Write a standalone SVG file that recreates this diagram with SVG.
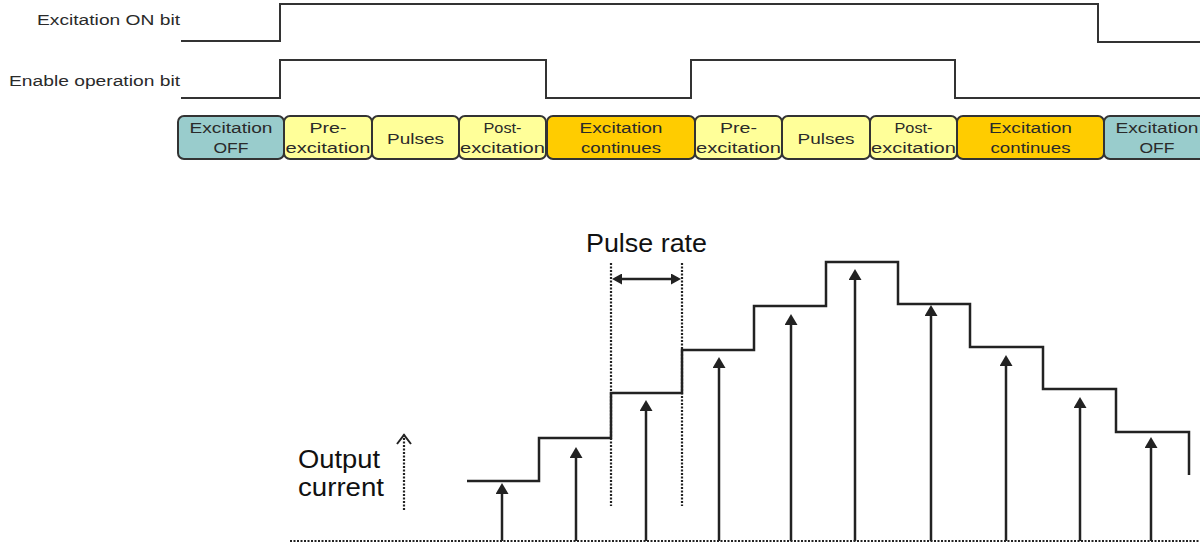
<svg xmlns="http://www.w3.org/2000/svg" width="1200" height="546" viewBox="0 0 1200 546">
<style>
.lbl{font-family:"Liberation Sans",Arial,sans-serif;font-size:15.5px;fill:#2a2a2a}
.bl{font-family:"Liberation Sans",Arial,sans-serif;font-size:15.5px;fill:#2a2a2a;text-anchor:middle}
.big{font-family:"Liberation Sans",Arial,sans-serif;font-size:25px;fill:#111}
.sig{fill:none;stroke:#333;stroke-width:2}
.box{stroke:#333;stroke-width:2}
.teal{fill:#99CCCC}.yel{fill:#FFFF99}.org{fill:#FFCC00}
.stair{fill:none;stroke:#222;stroke-width:2.5}
.pa{stroke:#222;stroke-width:2.5;marker-end:url(#tri)}
.dot{fill:none;stroke:#222;stroke-width:2.2;stroke-dasharray:2,1.5}
</style>
<defs>
<marker id="tri" viewBox="0 0 11 13" refX="6" refY="6.5" markerWidth="11" markerHeight="13" markerUnits="userSpaceOnUse" orient="auto">
<path d="M0,0 L11,6.5 L0,13 z" fill="#222"/>
</marker>
<marker id="tri2" viewBox="0 0 10 11" refX="7" refY="5.5" markerWidth="10" markerHeight="11" markerUnits="userSpaceOnUse" orient="auto-start-reverse">
<path d="M0,0 L10,5.5 L0,11 z" fill="#222"/>
</marker>
<marker id="chev" viewBox="0 0 12 16" refX="11" refY="8" markerWidth="12" markerHeight="16" markerUnits="userSpaceOnUse" orient="auto">
<path d="M1,1 L10,8 L1,15" fill="none" stroke="#222" stroke-width="2"/>
</marker>
</defs>

<g id="excitation-on-signal">
<text class="lbl" x="37" y="25" textLength="143" lengthAdjust="spacingAndGlyphs">Excitation ON bit</text>
<path class="sig" d="M181,41 H280 V4 H1098 V42 H1200"/>
</g>
<g id="enable-operation-signal">
<text class="lbl" x="9" y="86" textLength="171" lengthAdjust="spacingAndGlyphs">Enable operation bit</text>
<path class="sig" d="M181,98 H280 V60 H546 V98 H691 V60 H955 V98 H1200"/>
</g>

<g id="phase1"><rect class="box teal" x="178" y="116" width="106" height="43" rx="6"/>
<text class="bl" x="231" y="133" textLength="83" lengthAdjust="spacingAndGlyphs">Excitation</text>
<text class="bl" x="231" y="153" textLength="35" lengthAdjust="spacingAndGlyphs">OFF</text></g>
<g id="phase2"><rect class="box yel" x="284" y="116" width="88" height="43" rx="6"/>
<text class="bl" x="328" y="133" textLength="37" lengthAdjust="spacingAndGlyphs">Pre-</text>
<text class="bl" x="328" y="153" textLength="85" lengthAdjust="spacingAndGlyphs">excitation</text></g>
<g id="phase3"><rect class="box yel" x="372" y="116" width="87" height="43" rx="6"/>
<text class="bl" x="415.5" y="144" textLength="57" lengthAdjust="spacingAndGlyphs">Pulses</text></g>
<g id="phase4"><rect class="box yel" x="459" y="116" width="87" height="43" rx="6"/>
<text class="bl" x="502.5" y="133" textLength="38" lengthAdjust="spacingAndGlyphs">Post-</text>
<text class="bl" x="502.5" y="153" textLength="85" lengthAdjust="spacingAndGlyphs">excitation</text></g>
<g id="phase5"><rect class="box org" x="547" y="116" width="148" height="43" rx="6"/>
<text class="bl" x="621" y="133" textLength="83" lengthAdjust="spacingAndGlyphs">Excitation</text>
<text class="bl" x="621" y="153" textLength="80" lengthAdjust="spacingAndGlyphs">continues</text></g>
<g id="phase6"><rect class="box yel" x="695" y="116" width="87" height="43" rx="6"/>
<text class="bl" x="738.5" y="133" textLength="37" lengthAdjust="spacingAndGlyphs">Pre-</text>
<text class="bl" x="738.5" y="153" textLength="85" lengthAdjust="spacingAndGlyphs">excitation</text></g>
<g id="phase7"><rect class="box yel" x="782" y="116" width="88" height="43" rx="6"/>
<text class="bl" x="826" y="144" textLength="57" lengthAdjust="spacingAndGlyphs">Pulses</text></g>
<g id="phase8"><rect class="box yel" x="870" y="116" width="87" height="43" rx="6"/>
<text class="bl" x="913.5" y="133" textLength="38" lengthAdjust="spacingAndGlyphs">Post-</text>
<text class="bl" x="913.5" y="153" textLength="85" lengthAdjust="spacingAndGlyphs">excitation</text></g>
<g id="phase9"><rect class="box org" x="957" y="116" width="147" height="43" rx="6"/>
<text class="bl" x="1030.5" y="133" textLength="83" lengthAdjust="spacingAndGlyphs">Excitation</text>
<text class="bl" x="1030.5" y="153" textLength="80" lengthAdjust="spacingAndGlyphs">continues</text></g>
<g id="phase10"><rect class="box teal" x="1104" y="116" width="110" height="43" rx="6"/>
<text class="bl" x="1157" y="133" textLength="83" lengthAdjust="spacingAndGlyphs">Excitation</text>
<text class="bl" x="1157" y="153" textLength="35" lengthAdjust="spacingAndGlyphs">OFF</text></g>

<g id="output-current-label">
<text class="big" x="298" y="468" textLength="82" lengthAdjust="spacingAndGlyphs">Output</text>
<text class="big" x="298" y="496" textLength="86" lengthAdjust="spacingAndGlyphs">current</text>
</g>
<g id="pulse-rate-label">
<text class="big" x="586" y="252" textLength="121" lengthAdjust="spacingAndGlyphs">Pulse rate</text>
</g>

<g id="output-staircase">
<path class="stair" d="M467,481 H539 V438 H611 V393 H682 V350 H754 V306 H826 V262 H898 V304 H970 V347 H1043 V389 H1116 V432 H1189 V475"/>
</g>

<g id="connectors">
<line class="dot" x1="290" y1="541" x2="1200" y2="541"/>
<line class="dot" x1="404" y1="510" x2="404" y2="434" marker-end="url(#chev)"/>
<line class="dot" x1="611" y1="263" x2="611" y2="506"/>
<line class="dot" x1="682" y1="263" x2="682" y2="506"/>
<line x1="615" y1="279" x2="678" y2="279" stroke="#222" stroke-width="2.5" marker-start="url(#tri2)" marker-end="url(#tri2)"/>
<line class="pa" x1="502" y1="541" x2="502" y2="488"/>
<line class="pa" x1="576" y1="541" x2="576" y2="452"/>
<line class="pa" x1="646" y1="541" x2="646" y2="405"/>
<line class="pa" x1="719" y1="541" x2="719" y2="362"/>
<line class="pa" x1="791" y1="541" x2="791" y2="319"/>
<line class="pa" x1="855" y1="541" x2="855" y2="274"/>
<line class="pa" x1="931" y1="541" x2="931" y2="310"/>
<line class="pa" x1="1006" y1="541" x2="1006" y2="360"/>
<line class="pa" x1="1080" y1="541" x2="1080" y2="402"/>
<line class="pa" x1="1151" y1="541" x2="1151" y2="442"/>
</g>
</svg>
